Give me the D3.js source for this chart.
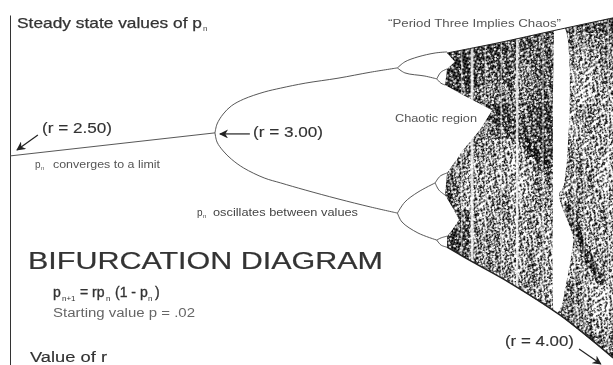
<!DOCTYPE html>
<html>
<head>
<meta charset="utf-8">
<script src="https://cdn.jsdelivr.net/npm/d3@7"></script>
<style>
    html, body { margin: 0; padding: 0; background: #fff; }
    #viz { width: 613px; height: 365px; overflow: hidden; }
    svg { display: block; filter: blur(0.3px); font-family: "Liberation Sans", Arial, sans-serif; }
</style>
</head>
<body>
<div id="viz"></div>
<script>
// all values, r along the bottom, p up the side
const stemR = [2.5, 3.0],
    stemP = [0.603, 0.668];

// period 2
const forkR = [3.0, 3.005, 3.02, 3.04, 3.07, 3.12, 3.16, 3.22, 3.3, 3.38, 3.445],
    forkUpperP = [0.668, 0.693, 0.721, 0.744, 0.763, 0.783, 0.794, 0.808, 0.822, 0.839, 0.851],
    forkLowerP = [0.668, 0.642, 0.617, 0.594, 0.569, 0.541, 0.527, 0.507, 0.482, 0.459, 0.442];

// period 4 and the small lobes just before the chaos starts
const topOuterR = [3.445, 3.463, 3.495, 3.537, 3.566],
    topOuterP = [0.851, 0.868, 0.882, 0.893, 0.896],
    topInnerR = [3.445, 3.463, 3.512, 3.541],
    topInnerP = [0.851, 0.837, 0.828, 0.820],
    lobeAUpR = [3.541, 3.551, 3.566],
    lobeAUpP = [0.820, 0.839, 0.848],
    lobeADownR = [3.541, 3.551, 3.561],
    lobeADownP = [0.820, 0.808, 0.803],
    lowInnerR = [3.445, 3.463, 3.495, 3.537],
    lowInnerP = [0.442, 0.473, 0.501, 0.527],
    lobeBUpR = [3.537, 3.549, 3.566],
    lobeBUpP = [0.527, 0.546, 0.555],
    lobeBDownR = [3.537, 3.546, 3.561],
    lobeBDownP = [0.527, 0.507, 0.493],
    lowOuterR = [3.445, 3.456, 3.495, 3.541],
    lowOuterP = [0.442, 0.417, 0.386, 0.366],
    lobeCUpR = [3.541, 3.551, 3.566],
    lobeCUpP = [0.366, 0.372, 0.377],
    lobeCDownR = [3.541, 3.551, 3.566],
    lobeCDownP = [0.366, 0.352, 0.346];

// outline of the chaotic region
const chaosR = [3.566, 3.688, 3.834, 3.971, 3.971, 3.841, 3.720, 3.629, 3.566, 3.566, 3.578, 3.595, 3.580, 3.561, 3.566, 3.605, 3.646, 3.676, 3.605, 3.561, 3.566, 3.585],
    chaosP = [0.893, 0.921, 0.958, 0.992, 0.034, 0.155, 0.245, 0.304, 0.346, 0.377, 0.394, 0.423, 0.456, 0.493, 0.555, 0.620, 0.676, 0.732, 0.775, 0.803, 0.848, 0.868];

const topEdgeR = [3.566, 3.688, 3.834, 3.971],
    topEdgeP = [0.893, 0.921, 0.958, 0.992],
    bottomEdgeR = [3.566, 3.629, 3.720, 3.841, 3.971],
    bottomEdgeP = [0.346, 0.304, 0.245, 0.155, 0.034];

// how dark the dots are, 0-9: one string per band of p going down from 1.0,
// one character per step of r going right from 3.56
const densityR0 = 3.56,
    densityRStep = 0.02,
    densityPStep = 0.05,
    density = [
        '888888888888888777788',
        '999988887777776655566',
        '999987777667776544465',
        '988876776567775443454',
        '888765666567775433444',
        '667788887678885455444',
        '555566777778885445444',
        '555655444477885544443',
        '655454443446775554434',
        '764544444345564455434',
        '854444554445554554444',
        '877545454454444364454',
        '988555544445444464444',
        '987655544454444445454',
        '888776554455444454444',
        '888888765554446654334',
        '888888888676656654334',
        '888888888888886666444',
        '888888888888888888755',
        '888888888888888888888'
    ];

// dark diagonal streaks inside the noise
const streakAR = [3.744, 3.810],
    streakAP = [0.656, 0.572],
    streakBR = [3.856, 3.898, 3.946],
    streakBP = [0.465, 0.344, 0.239];

// narrow periodic windows and the big period three one
const thinWindowR = [3.602, 3.627, 3.659, 3.698, 3.737, 3.800, 3.878, 3.900, 3.959],
    thinWindowW = [0.002, 0.007, 0.002, 0.002, 0.006, 0.002, 0.002, 0.002, 0.002],
    periodThreeR = [3.827, 3.851, 3.851, 3.839, 3.849, 3.873, 3.866, 3.854, 3.846, 3.829, 3.824, 3.824, 3.824],
    periodThreeP = [0.961, 0.966, 0.521, 0.493, 0.451, 0.372, 0.304, 0.231, 0.183, 0.152, 0.254, 0.479, 0.761];

// arrows, from r, from p, to r, to p
const arrowFromR = [2.568, 3.085, 3.888],
    arrowFromP = [0.662, 0.665, 0.059],
    arrowToR = [2.517, 3.012, 3.941],
    arrowToP = [0.620, 0.665, 0.017];

const width = 613,
    height = 365;

const rScale = d3.scaleLinear().domain([2.5, 4]).range([10, 625]);
const pScale = d3.scaleLinear().domain([0, 1]).range([370, 15]);

const zipLine = d3.line().x(d => rScale(d[0])).y(d => pScale(d[1]));
const zipCurve = d3.line().x(d => rScale(d[0])).y(d => pScale(d[1])).curve(d3.curveCatmullRom);

const svg = d3.select('#viz').append('svg')
    .attr('width', width)
    .attr('height', height);

const defs = svg.append('defs');

// grain for the dots. a fixed threshold tile, a pixel is inked when its digit is under the level.
// turned off the pixel grid so the rows dont show up as a weave
const grain = [
    '3a7f0c5e92b1d846', 'e1694db23f07a8c5', '08c2f5a76d1e93b4', 'b74e1938c0a6f25d',
    '6d0a3fc5827b4e19', 'f29b7e6014d3c8a5', '4c15a8d3b96f027e', '87e36b0f2ca514d9',
    'a0d94c71e5382fb6', '5f38b2e6a07d1c94', '1b6ad097f4c3e582', 'c9427f38165eab0d',
    '72e05c1ba9d6843f', 'd8a369f4072be1c5', '3fb1e8d56c492a70', '96c47a20ed15f8b3'
];

function grainPattern(id, level, size, angle, color) {
    const tile = defs.append('pattern')
        .attr('id', id)
        .attr('patternUnits', 'userSpaceOnUse')
        .attr('patternTransform', 'rotate(' + angle + ')')
        .attr('width', 16 * size)
        .attr('height', 16 * size);
    grain.forEach(function(row, y) {
        row.split('').forEach(function(c, x) {
            if (parseInt(c, 16) < level * 1.65) {
                tile.append('rect')
                    .attr('x', x * size)
                    .attr('y', y * size)
                    .attr('width', size)
                    .attr('height', size)
                    .attr('fill', color);
            }
        });
    });
}

d3.range(1, 10).forEach(function(level) {
    grainPattern('stipple-' + level, level, 1.5, 23, '#000');
});
grainPattern('holes', 1.2, 1.9, -41, '#fff');

defs.append('clipPath').attr('id', 'chaos-clip')
    .append('path')
    .attr('d', zipLine(d3.zip(chaosR, chaosP)) + 'Z');

// y axis, a bare line with no ticks
svg.append('g')
    .attr('transform', 'translate(' + rScale(2.5) + ',0)')
    .call(d3.axisLeft(pScale).tickValues([]).tickSize(0))
    .select('.domain')
    .attr('stroke', '#333')
    .attr('stroke-width', 1);

// stem and branches
const branches = [
    [stemR, stemP],
    [forkR, forkUpperP],
    [forkR, forkLowerP],
    [topOuterR, topOuterP],
    [topInnerR, topInnerP],
    [lobeAUpR, lobeAUpP],
    [lobeADownR, lobeADownP],
    [lowInnerR, lowInnerP],
    [lobeBUpR, lobeBUpP],
    [lobeBDownR, lobeBDownP],
    [lowOuterR, lowOuterP],
    [lobeCUpR, lobeCUpP],
    [lobeCDownR, lobeCDownP]
];

svg.append('g').selectAll('path')
    .data(branches)
    .enter().append('path')
    .attr('d', d => zipCurve(d3.zip(d[0], d[1])))
    .attr('fill', 'none')
    .attr('stroke', '#444')
    .attr('stroke-width', 0.9);

// chaotic region
const cells = [];
density.forEach(function(row, i) {
    row.split('').forEach(function(c, j) {
        cells.push({
            r: densityR0 + j * densityRStep,
            p: 1 - i * densityPStep,
            level: +c
        });
    });
});

const chaos = svg.append('g').attr('clip-path', 'url(#chaos-clip)');

chaos.selectAll('rect.cell')
    .data(cells)
    .enter().append('rect')
    .attr('class', 'cell')
    .attr('x', d => rScale(d.r))
    .attr('y', d => pScale(d.p))
    .attr('width', rScale(densityRStep) - rScale(0))
    .attr('height', pScale(0) - pScale(densityPStep))
    .attr('shape-rendering', 'crispEdges')
    .attr('fill', d => 'url(#stipple-' + d.level + ')');

chaos.selectAll('path.streak')
    .data([[streakAR, streakAP], [streakBR, streakBP]])
    .enter().append('path')
    .attr('class', 'streak')
    .attr('d', d => zipLine(d3.zip(d[0], d[1])))
    .attr('fill', 'none')
    .attr('stroke', 'url(#stipple-7)')
    .attr('stroke-width', 9)
    .attr('opacity', 0.8);

// white flecks so the density doesnt look too even
chaos.append('path')
    .attr('d', zipLine(d3.zip(chaosR, chaosP)) + 'Z')
    .attr('fill', 'url(#holes)');

chaos.selectAll('rect.window')
    .data(d3.zip(thinWindowR, thinWindowW))
    .enter().append('rect')
    .attr('class', 'window')
    .attr('x', d => rScale(d[0] - d[1] / 2))
    .attr('y', pScale(1))
    .attr('width', d => rScale(d[1]) - rScale(0))
    .attr('height', pScale(0) - pScale(1))
    .attr('fill', '#fff')
    .attr('opacity', 0.8);

chaos.append('path')
    .attr('d', zipCurve(d3.zip(periodThreeR, periodThreeP)) + 'Z')
    .attr('fill', '#fff');

// the lower and upper rims are solid in the original
svg.append('path')
    .attr('d', zipCurve(d3.zip(bottomEdgeR, bottomEdgeP)))
    .attr('fill', 'none')
    .attr('stroke', '#222')
    .attr('stroke-width', 1.5);

svg.append('path')
    .attr('d', zipCurve(d3.zip(topEdgeR, topEdgeP)))
    .attr('fill', 'none')
    .attr('stroke', '#222')
    .attr('stroke-width', 1);

// arrows
defs.append('marker')
    .attr('id', 'head')
    .attr('viewBox', '0 0 10 10')
    .attr('refX', 9)
    .attr('refY', 5)
    .attr('markerWidth', 9)
    .attr('markerHeight', 9)
    .attr('markerUnits', 'userSpaceOnUse')
    .attr('orient', 'auto')
    .append('path')
    .attr('d', 'M0,0L10,5L0,10L3,5Z')
    .attr('fill', '#222');

svg.append('g').selectAll('line')
    .data(d3.range(arrowFromR.length))
    .enter().append('line')
    .attr('x1', i => rScale(arrowFromR[i]))
    .attr('y1', i => pScale(arrowFromP[i]))
    .attr('x2', i => rScale(arrowToR[i]))
    .attr('y2', i => pScale(arrowToP[i]))
    .attr('stroke', '#222')
    .attr('stroke-width', 1.2)
    .attr('marker-end', 'url(#head)');

// text
function label(str, x, y, size, color, len) {
    const t = svg.append('text')
        .attr('x', x)
        .attr('y', y)
        .attr('font-size', size)
        .attr('fill', color)
        .text(str);
    if (len) {
        t.attr('textLength', len).attr('lengthAdjust', 'spacingAndGlyphs');
    }
    return t;
}

function heavy(t, w) {
    return t.attr('stroke', t.attr('fill')).attr('stroke-width', w);
}

heavy(label('Steady state values of p', 17, 28, 15, '#333', 185), 0.25);
label('n', 203, 31, 8, '#444');

heavy(label('(r = 2.50)', 42, 133, 15, '#333', 70), 0.15);
heavy(label('(r = 3.00)', 253, 137, 15, '#333', 70), 0.15);
heavy(label('(r = 4.00)', 505, 346, 15, '#333', 69), 0.15);

label('p', 35, 168, 10, '#555');
label('n', 41, 170, 6, '#555');
label('converges to a limit', 53, 168, 10, '#555', 107);

label('p', 197, 216, 10, '#444');
label('n', 203, 218, 6, '#444');
label('oscillates between values', 213, 216, 10, '#444', 145);

label('\u201CPeriod Three Implies Chaos\u201D', 388, 27, 11, '#555', 173);
label('Chaotic region', 395, 122, 11, '#555', 82);

heavy(label('BIFURCATION DIAGRAM', 28, 269, 23, '#333', 355), 0.2);

heavy(label('p', 53, 297, 14, '#333'), 0.35);
label('n+1', 62, 301, 8, '#333');
heavy(label('= rp', 80, 297, 14, '#333'), 0.35);
label('n', 106, 301, 8, '#333');
heavy(label('(1 - p', 115, 297, 14, '#333'), 0.35);
label('n', 148, 301, 8, '#333');
heavy(label(')', 155, 297, 14, '#333'), 0.35);

label('Starting value p = .02', 53, 317, 12, '#666', 142);
heavy(label('Value of r', 30, 362, 14, '#333', 77), 0.15);
</script>
</body>
</html>
